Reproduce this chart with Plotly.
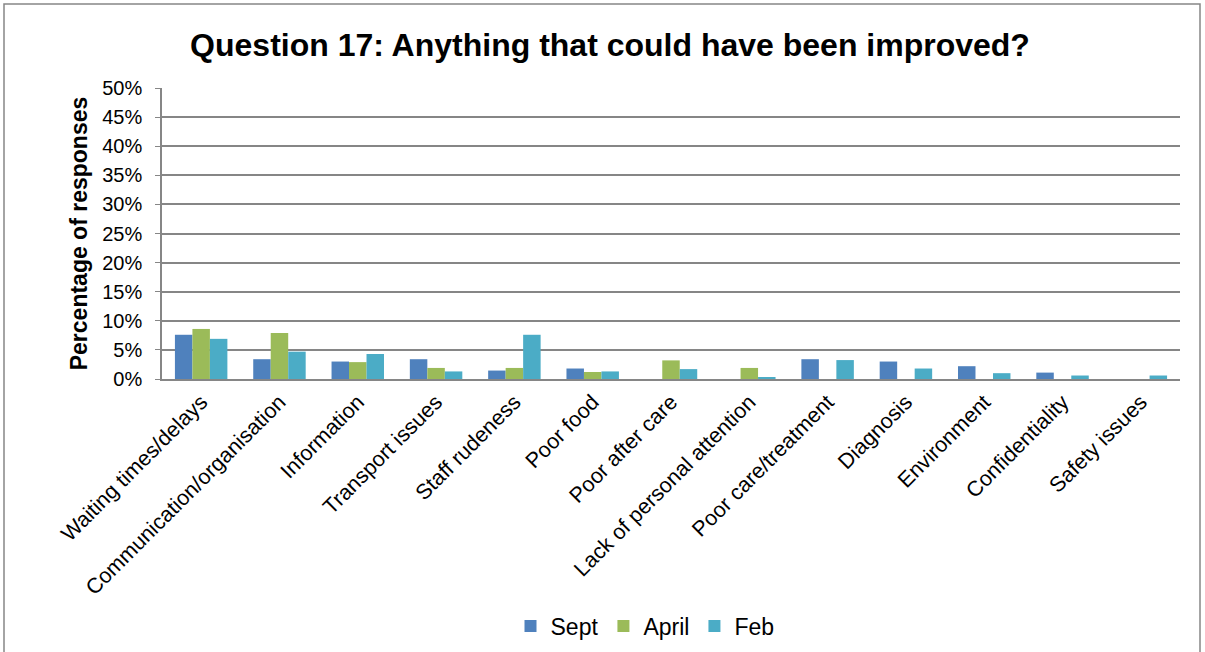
import plotly.graph_objects as go

categories = ["Waiting times/delays", "Communication/organisation", "Information",
              "Transport issues", "Staff rudeness", "Poor food", "Poor after care",
              "Lack of personal attention", "Poor care/treatment", "Diagnosis",
              "Environment", "Confidentiality", "Safety issues"]
sept = [7.6, 3.4, 3.0, 3.4, 1.45, 1.8, 0, 0, 3.4, 3.0, 2.2, 1.1, 0]
april = [8.6, 7.9, 2.9, 1.9, 1.9, 1.2, 3.2, 1.9, 0, 0, 0, 0, 0]
feb = [6.9, 4.7, 4.3, 1.3, 7.6, 1.3, 1.7, 0.3, 3.25, 1.8, 1.0, 0.6, 0.6]
y_ticks = [0, 5, 10, 15, 20, 25, 30, 35, 40, 45, 50]

W, H = 1205, 652
L, R, T, B = 162, 1180, 88, 379
pw, ph = R - L, B - T

fig = go.Figure()
for name, vals, col in [("Sept", sept, "#4F81BD"), ("April", april, "#9BBB59"), ("Feb", feb, "#4BACC6")]:
    fig.add_trace(go.Bar(name=name, x=categories, y=vals, marker=dict(color=col, line=dict(width=0))))

fig.update_layout(
    width=W, height=H,
    margin=dict(l=L, r=W - R, t=T, b=H - B, autoexpand=False),
    paper_bgcolor="white", plot_bgcolor="white",
    font=dict(family="Liberation Sans, Arial, sans-serif", color="black"),
    barmode="group", bargap=0.33, bargroupgap=0,
    title=dict(text="<b>Question 17: Anything that could have been improved?</b>",
               x=610 / W, xanchor="center", y=1 - 45 / H, yanchor="middle",
               font=dict(size=32)),
    legend=dict(orientation="h", x=0.5 + (645 - (L + R) / 2) / pw, xanchor="center",
                y=-(626 - B) / ph, yanchor="middle", font=dict(size=23),
                itemwidth=30, traceorder="normal"),
    showlegend=True,
)
fig.update_yaxes(range=[0, 50], tickvals=y_ticks, ticktext=[f"{v}%" for v in y_ticks],
                 showgrid=True, gridcolor="#868686", gridwidth=1.5,
                 showline=True, linecolor="#868686", linewidth=1.5,
                 ticks="outside", ticklen=5, tickcolor="#868686",
                 tickfont=dict(size=20), zeroline=False, ticklabelstandoff=9,
                 title=dict(text="<b>Percentage of responses</b>", font=dict(size=23), standoff=8))
fig.update_xaxes(showline=True, linecolor="#868686", linewidth=2,
                 tickangle=-45, tickfont=dict(size=21.5), ticks="")
# outer chart border
fig.add_shape(type="rect", xref="paper", yref="paper",
              x0=(4 - L) / pw, x1=(1200 - L) / pw, y0=(B - 660) / ph, y1=(B - 4) / ph,
              line=dict(color="#868686", width=1.5), fillcolor="rgba(0,0,0,0)", layer="below")
fig.write_html("out.html")
